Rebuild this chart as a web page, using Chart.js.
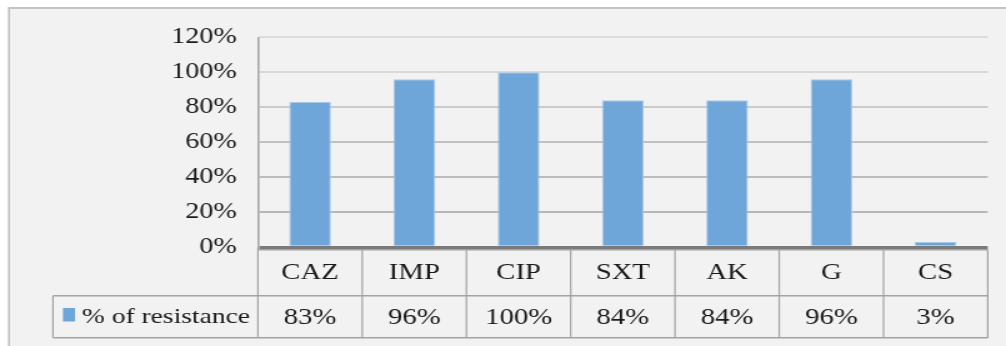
<!DOCTYPE html>
<html>
<head>
<meta charset="utf-8">
<script src="https://cdn.jsdelivr.net/npm/chart.js@4"></script>
<style>
  html, body { margin: 0; padding: 0; background: #ffffff; }
  /* the canvas is laid out narrower and widened by CSS, giving the broad serif lettering */
  #c { display: block; width: 1006px !important; height: 346px !important; }
</style>
</head>
<body>
<canvas id="c" width="805" height="346" style="width:1006px;height:346px;"></canvas>
<script>
// Antibiotic resistance by agent
const categories = ['CAZ', 'IMP', 'CIP', 'SXT', 'AK', 'G', 'CS'];
const resistance = [83, 96, 100, 84, 84, 96, 3];
const valueLabels = resistance.map(v => v + '%');
const seriesName = '% of resistance';
const yMin = 0, yMax = 120, yStep = 20;

const FONT = '"Liberation Serif", "Times New Roman", serif';
const TEXT = '#1a1a1a';
const BAR = '#6fa6d9';
const LINE = '#a3a3a3';

// Panel background and frame
const framePlugin = {
  id: 'frame',
  beforeDraw(chart) {
    const ctx = chart.ctx;
    ctx.save();
    ctx.fillStyle = '#ffffff';
    ctx.fillRect(0, 0, chart.width, chart.height);
    ctx.fillStyle = '#f2f2f2';
    ctx.fillRect(6.4, 8, chart.width, chart.height);
    ctx.strokeStyle = '#c3c3c3';
    ctx.lineWidth = 2;
    ctx.beginPath();
    ctx.moveTo(6.4, 8);
    ctx.lineTo(chart.width, 8);
    ctx.stroke();
    ctx.lineWidth = 1.6;
    ctx.beginPath();
    ctx.moveTo(7.2, 8);
    ctx.lineTo(7.2, chart.height);
    ctx.stroke();
    ctx.restore();
  }
};

// Data table under the plot: category row and value row, with the series key
const tablePlugin = {
  id: 'dataTable',
  afterDraw(chart) {
    const ctx = chart.ctx;
    const xs = chart.scales.x;
    const area = chart.chartArea;
    const half = (xs.getPixelForValue(1) - xs.getPixelForValue(0)) / 2;
    const top = area.bottom + 2.5, mid = 295.7, bot = 337.7;
    const keyLeft = 42.4;
    const left = xs.getPixelForValue(0) - half;
    const right = xs.getPixelForValue(categories.length - 1) + half;

    ctx.save();
    ctx.strokeStyle = LINE;
    // horizontal rules
    ctx.lineWidth = 1.6;
    ctx.beginPath();
    ctx.moveTo(left, top); ctx.lineTo(right, top);
    ctx.moveTo(keyLeft, mid); ctx.lineTo(right, mid);
    ctx.moveTo(keyLeft, bot); ctx.lineTo(right, bot);
    ctx.stroke();
    // vertical rules
    ctx.lineWidth = 1.2;
    ctx.beginPath();
    for (let i = 0; i <= categories.length; i++) {
      const x = xs.getPixelForValue(i) - half;
      ctx.moveTo(x, i === 0 ? bot : top);
      ctx.lineTo(x, i === 0 ? area.bottom : bot);
    }
    ctx.moveTo(keyLeft, mid); ctx.lineTo(keyLeft, bot);
    ctx.stroke();

    // text
    ctx.fillStyle = TEXT;
    ctx.font = '23px ' + FONT;
    ctx.textAlign = 'center';
    ctx.textBaseline = 'middle';
    categories.forEach((c, i) => {
      const x = xs.getPixelForValue(i);
      ctx.fillText(c, x, 273);
      ctx.fillText(valueLabels[i], x, 317.5);
    });

    // series key
    ctx.fillStyle = BAR;
    ctx.fillRect(50.4, 308, 9.6, 13.5);
    ctx.fillStyle = TEXT;
    ctx.textAlign = 'left';
    ctx.font = '22px ' + FONT;
    ctx.fillText(chart.data.datasets[0].label, 65.6, 317.5);
    ctx.restore();
  }
};

const gridColors = { 120: '#dcdcdc', 100: '#d9d9d9', 80: '#cbcbcb', 60: '#c0c0c0', 40: '#bcbcbc', 20: '#b7b7b7', 0: '#7a7a7a' };

new Chart(document.getElementById('c'), {
  type: 'bar',
  data: {
    labels: categories,
    datasets: [{
      label: seriesName,
      data: resistance,
      backgroundColor: BAR,
      borderColor: '#a8c8e8',
      borderWidth: 1,
      barPercentage: 0.4,
      categoryPercentage: 1
    }]
  },
  options: {
    responsive: false,
    animation: false,
    devicePixelRatio: 1,
    layout: { padding: { left: 0, top: 37.3, right: 14.6, bottom: 98.7 } },
    plugins: { legend: { display: false }, tooltip: { enabled: false } },
    scales: {
      x: { display: false },
      y: {
        min: yMin,
        max: yMax,
        ticks: {
          stepSize: yStep,
          callback: v => v + '%',
          font: { family: FONT, size: 22.5 },
          color: TEXT,
          padding: 17
        },
        grid: {
          drawTicks: false,
          color: c => gridColors[c.tick.value] || '#cccccc',
          lineWidth: c => (c.tick.value === 0 ? 3 : 2)
        },
        border: { color: '#a6a6a6', width: 1.6 },
        afterFit(s) { s.width = 206.4; }
      }
    }
  },
  plugins: [framePlugin, tablePlugin]
});
</script>
</body>
</html>
